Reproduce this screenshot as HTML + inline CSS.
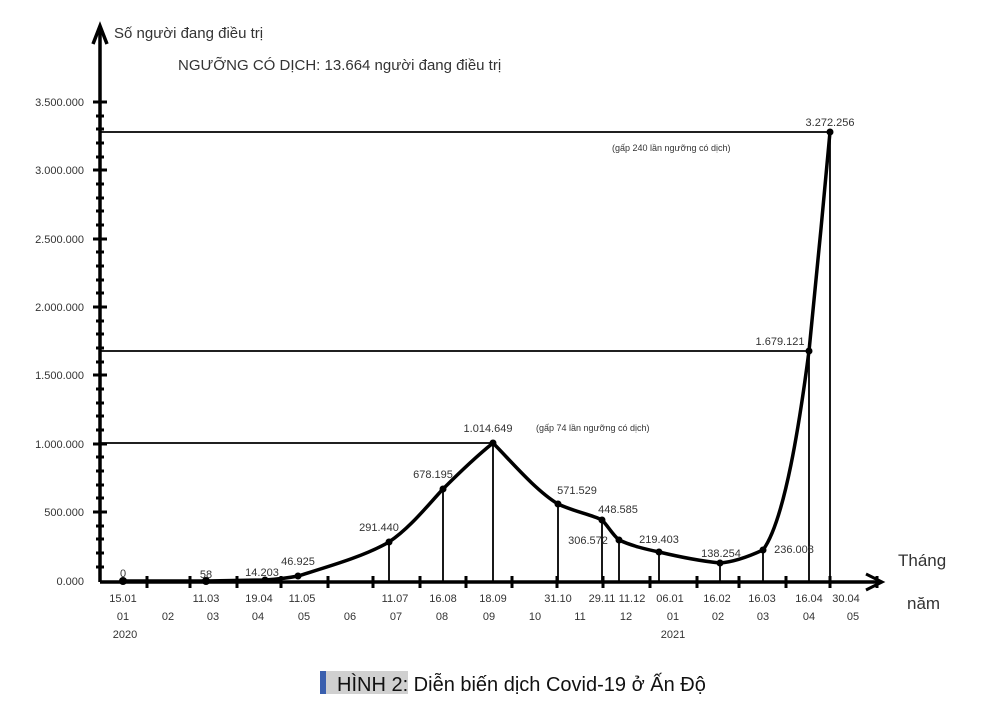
<!DOCTYPE html>
<html><head><meta charset="utf-8"><style>
body{margin:0;background:#fff;width:1000px;height:710px;overflow:hidden}
svg text{font-family:"Liberation Sans",Arial,sans-serif}
</style></head><body>
<svg width="1000" height="710" viewBox="0 0 1000 710" xmlns="http://www.w3.org/2000/svg">
<g fill="#333" font-size="11" text-anchor="end">
<text x="84" y="106">3.500.000</text>
<text x="84" y="174">3.000.000</text>
<text x="84" y="243">2.500.000</text>
<text x="84" y="311">2.000.000</text>
<text x="84" y="379">1.500.000</text>
<text x="84" y="448">1.000.000</text>
<text x="84" y="516">500.000</text>
<text x="84" y="585">0.000</text>
</g>
<g stroke="#000" stroke-width="3">
<line x1="93" y1="102" x2="107" y2="102"/><line x1="93" y1="170" x2="107" y2="170"/>
<line x1="93" y1="239" x2="107" y2="239"/><line x1="93" y1="307" x2="107" y2="307"/>
<line x1="93" y1="375" x2="107" y2="375"/><line x1="93" y1="444" x2="107" y2="444"/>
<line x1="93" y1="512" x2="107" y2="512"/>
</g>
<g stroke="#000" stroke-width="3">
<path d="M96 116h8M96 129h8M96 143h8M96 157h8M96 184h8M96 198h8M96 211h8M96 225h8M96 252h8M96 266h8M96 280h8M96 293h8M96 321h8M96 334h8M96 348h8M96 362h8M96 389h8M96 403h8M96 416h8M96 430h8M96 457h8M96 471h8M96 485h8M96 498h8M96 526h8M96 539h8M96 553h8M96 567h8"/>
</g>
<!-- axes -->
<line x1="100" y1="582" x2="100" y2="30" stroke="#000" stroke-width="3.5"/>
<path d="M93 44 L100 26 L107 44" fill="none" stroke="#000" stroke-width="3.5"/>
<line x1="100" y1="582" x2="880" y2="582" stroke="#000" stroke-width="3.5"/>
<path d="M866 574 L882 582 L866 590" fill="none" stroke="#000" stroke-width="3"/>
<g stroke="#000" stroke-width="3">
<path d="M147 576v12M190 576v12M237 576v12M281 576v12M328 576v12M373 576v12M420 576v12M466 576v12M512 576v12M557 576v12M603 576v12M650 576v12M697 576v12M739 576v12M786 576v12M830 576v12M877 576v12"/>
</g>
<!-- reference lines -->
<g stroke="#000" stroke-width="1.8">
<line x1="100" y1="132" x2="830" y2="132"/>
<line x1="100" y1="351" x2="809" y2="351"/>
<line x1="100" y1="443" x2="493" y2="443"/>
<path d="M389 542V582M443 489V582M493 443V582M558 504V582M602 520V582M619 540V582M659 552V582M720 563V582M763 550V582M809 351V582M830 132V582"/>
</g>
<path d="M123 581 L206 581 L265 580 C280 579 288 578 298 576 C330 566 365 556 389 542 C410 528 428 505 443 489 C460 472 478 455 493 443 C510 460 535 490 558 504 C575 512 590 514 602 520 C608 526 612 534 619 540 C632 546 645 549 659 552 C680 557 700 561 720 563 C735 562 750 556 763 550 C785 520 800 420 809 351 C815 290 824 200 830 132" fill="none" stroke="#000" stroke-width="3.5"/>
<g fill="#000">
<circle cx="123" cy="581" r="4"/><circle cx="206" cy="581" r="4"/><circle cx="265" cy="580" r="3.5"/><circle cx="298" cy="576" r="3.5"/>
<circle cx="389" cy="542" r="3.5"/><circle cx="443" cy="489" r="3.5"/><circle cx="493" cy="443" r="3.5"/><circle cx="558" cy="504" r="3.5"/>
<circle cx="602" cy="520" r="3.5"/><circle cx="619" cy="540" r="3.5"/><circle cx="659" cy="552" r="3.5"/><circle cx="720" cy="563" r="3.5"/>
<circle cx="763" cy="550" r="3.5"/><circle cx="809" cy="351" r="3.5"/><circle cx="830" cy="132" r="3.5"/>
</g>
<g fill="#333" font-size="11" text-anchor="middle">
<text x="123" y="577">0</text><text x="206" y="578">58</text><text x="262" y="576">14.203</text><text x="298" y="565">46.925</text>
<text x="379" y="531">291.440</text><text x="433" y="478">678.195</text><text x="488" y="432">1.014.649</text>
<text x="577" y="494">571.529</text><text x="618" y="513">448.585</text><text x="588" y="544">306.572</text><text x="659" y="543">219.403</text>
<text x="721" y="557">138.254</text><text x="794" y="553">236.008</text><text x="780" y="345">1.679.121</text><text x="830" y="126">3.272.256</text>
</g>
<g fill="#333" font-size="9">
<text x="612" y="151">(gấp 240 lần ngưỡng có dịch)</text>
<text x="536" y="431">(gấp 74 lần ngưỡng có dịch)</text>
</g>
<g fill="#333" font-size="11" text-anchor="middle">
<text x="123" y="602">15.01</text><text x="206" y="602">11.03</text><text x="259" y="602">19.04</text><text x="302" y="602">11.05</text>
<text x="395" y="602">11.07</text><text x="443" y="602">16.08</text><text x="493" y="602">18.09</text><text x="558" y="602">31.10</text>
<text x="602" y="602">29.11</text><text x="632" y="602">11.12</text><text x="670" y="602">06.01</text><text x="717" y="602">16.02</text>
<text x="762" y="602">16.03</text><text x="809" y="602">16.04</text><text x="846" y="602">30.04</text>
<text x="123" y="620">01</text><text x="168" y="620">02</text><text x="213" y="620">03</text><text x="258" y="620">04</text>
<text x="304" y="620">05</text><text x="350" y="620">06</text><text x="396" y="620">07</text><text x="442" y="620">08</text>
<text x="489" y="620">09</text><text x="535" y="620">10</text><text x="580" y="620">11</text><text x="626" y="620">12</text>
<text x="673" y="620">01</text><text x="718" y="620">02</text><text x="763" y="620">03</text><text x="809" y="620">04</text><text x="853" y="620">05</text>
<text x="125" y="638">2020</text><text x="673" y="638">2021</text>
</g>
<text x="898" y="566" font-size="17" fill="#333">Tháng</text>
<text x="907" y="609" font-size="17" fill="#333">năm</text>
<text x="114" y="38" font-size="15" fill="#333">Số người đang điều trị</text>
<text x="178" y="70" font-size="15" fill="#333">NGƯỠNG CÓ DỊCH: 13.664 người đang điều trị</text>
<rect x="320" y="671" width="6" height="23" fill="#3a5fae"/>
<rect x="326" y="671" width="82" height="23" fill="#d0d0d0"/>
<text x="337" y="691" font-size="20" fill="#111">HÌNH 2: Diễn biến dịch Covid-19 ở Ấn Độ</text>
</svg>
</body></html>
